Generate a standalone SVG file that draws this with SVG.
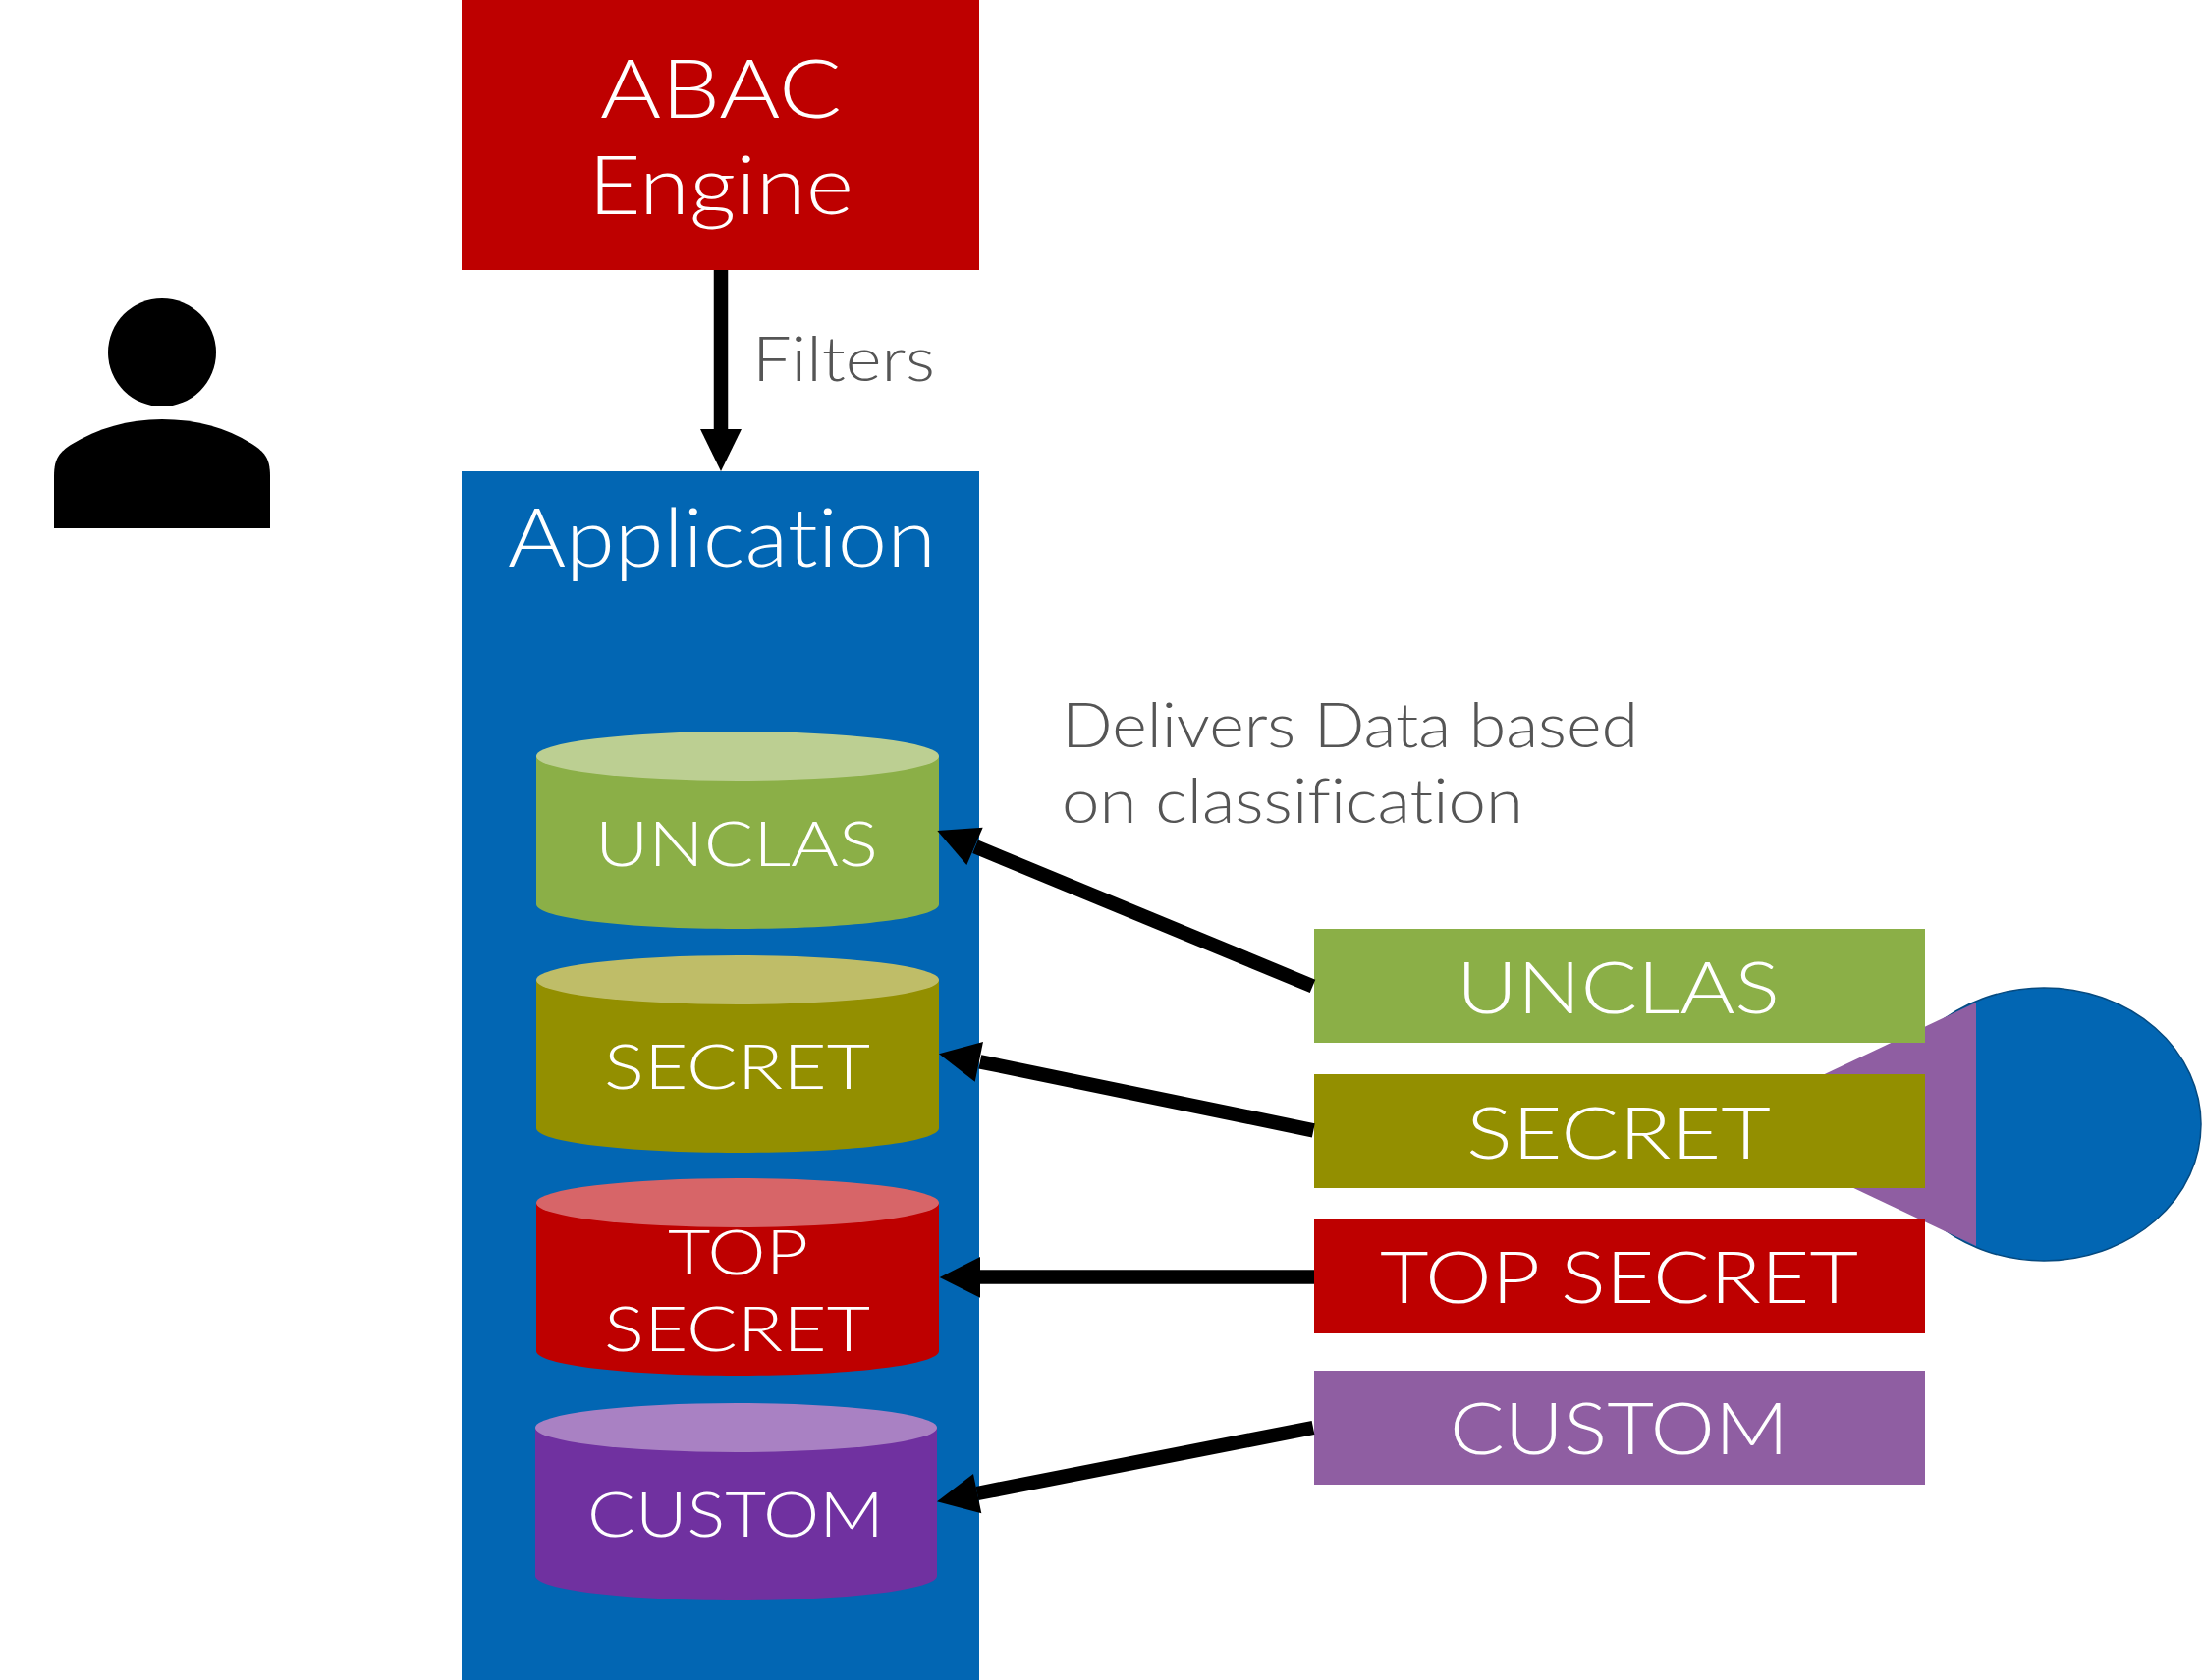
<svg xmlns="http://www.w3.org/2000/svg" width="2242" height="1711" viewBox="0 0 2242 1711">
<style>
text{font-family:"Lato","Liberation Sans",sans-serif;font-weight:300;fill:#fff;font-variant-ligatures:none}
.g{fill:#555}
.l{font-size:82px}.m{font-size:72px}.s{font-size:64px}.n{font-size:64px}
.c{stroke:#000;stroke-width:14.500;fill:none}
</style>
<rect width="2242" height="1711" fill="#fff"/>
<g id="user"><ellipse cx="165" cy="359" rx="55" ry="55"/><path d="M55 538V485C55 465 62 460 72 453C100 436 130 427 165 427C200 427 232 436 258 453C268 460 275 465 275 485V538Z"/></g>
<g id="abac"><rect x="470" width="527" height="275" fill="#be0000"/><text class="l" x="611" y="120" textLength="246" lengthAdjust="spacingAndGlyphs">ABAC</text><text class="l" x="599" y="218" textLength="270" lengthAdjust="spacingAndGlyphs">Engine</text></g>
<g id="application"><rect x="470" y="480" width="527" height="1231" fill="#0266b3"/><text class="l" x="517" y="577" textLength="436" lengthAdjust="spacingAndGlyphs">Application</text></g>
<g id="circle"><ellipse cx="2081" cy="1145" rx="160" ry="139" fill="#0266b3" stroke="#054a80" stroke-width="1.500"/><path d="M2012 1021V1269L1750 1145Z" fill="#8f5ea2"/></g>
<g id="db-unclas"><path d="M546 770V921C546 935 638 946 751 946S956 935 956 921V770Z" fill="#8baf47"/><ellipse cx="751" cy="770" rx="205" ry="25" fill="#bccf92"/><text class="s" x="606" y="882" textLength="288" lengthAdjust="spacingAndGlyphs">UNCLAS</text></g>
<g id="db-secret"><path d="M546 998V1149C546 1163 638 1174 751 1174S956 1163 956 1149V998Z" fill="#938f00"/><ellipse cx="751" cy="998" rx="205" ry="25" fill="#bfbd68"/><text class="s" x="615" y="1109" textLength="271" lengthAdjust="spacingAndGlyphs">SECRET</text></g>
<g id="db-top"><path d="M546 1225V1376C546 1390 638 1401 751 1401S956 1390 956 1376V1225Z" fill="#be0000"/><ellipse cx="751" cy="1225" rx="205" ry="25" fill="#d76568"/><text class="s" x="680" y="1298" textLength="143" lengthAdjust="spacingAndGlyphs">TOP</text><text class="s" x="615" y="1376" textLength="271" lengthAdjust="spacingAndGlyphs">SECRET</text></g>
<g id="db-custom"><path d="M545 1454V1605C545 1619 637 1630 749.500 1630S954 1619 954 1605V1454Z" fill="#7031a0"/><ellipse cx="749.500" cy="1454" rx="204.500" ry="25" fill="#a981c3"/><text class="s" x="598" y="1565" textLength="302" lengthAdjust="spacingAndGlyphs">CUSTOM</text></g>
<g id="tag-unclas"><rect x="1338" y="946" width="622" height="116" fill="#8baf47"/><text class="m" x="1483" y="1032" textLength="329" lengthAdjust="spacingAndGlyphs">UNCLAS</text></g>
<g id="tag-secret"><rect x="1338" y="1094" width="622" height="116" fill="#938f00"/><text class="m" x="1493" y="1180" textLength="310" lengthAdjust="spacingAndGlyphs">SECRET</text></g>
<g id="tag-top"><rect x="1338" y="1242" width="622" height="116" fill="#be0000"/><text class="m" x="1405" y="1327" textLength="487" lengthAdjust="spacingAndGlyphs">TOP SECRET</text></g>
<g id="tag-custom"><rect x="1338" y="1396" width="622" height="116" fill="#8f5ea2"/><text class="m" x="1476" y="1481" textLength="345" lengthAdjust="spacingAndGlyphs">CUSTOM</text></g>
<g id="connectors">
<path class="c" d="M734 275V440"/><path d="M713 437L755 437L734 480Z"/>
<path class="c" d="M1336.500 1004.400L993 862.300"/><path d="M954.300 846L1000.700 842.700L984.300 881Z"/>
<path class="c" d="M1337.300 1151.300L997.800 1081.300"/><path d="M956 1073.300L1001 1061L992.700 1101.700Z"/>
<path class="c" d="M1338 1300.500H996"/><path d="M956.700 1301L998 1280L998 1321.700Z"/>
<path class="c" d="M1337 1454L995 1521"/><path d="M954 1529.300L991 1501L999.300 1541.300Z"/>
</g>
<g id="notes"><text class="n g" x="1081" y="761" textLength="587" lengthAdjust="spacingAndGlyphs">Delivers Data based</text><text class="n g" x="1081" y="838" textLength="470" lengthAdjust="spacingAndGlyphs">on classification</text><text class="n g" x="766" y="388" textLength="186" lengthAdjust="spacingAndGlyphs">Filters</text></g>
</svg>
